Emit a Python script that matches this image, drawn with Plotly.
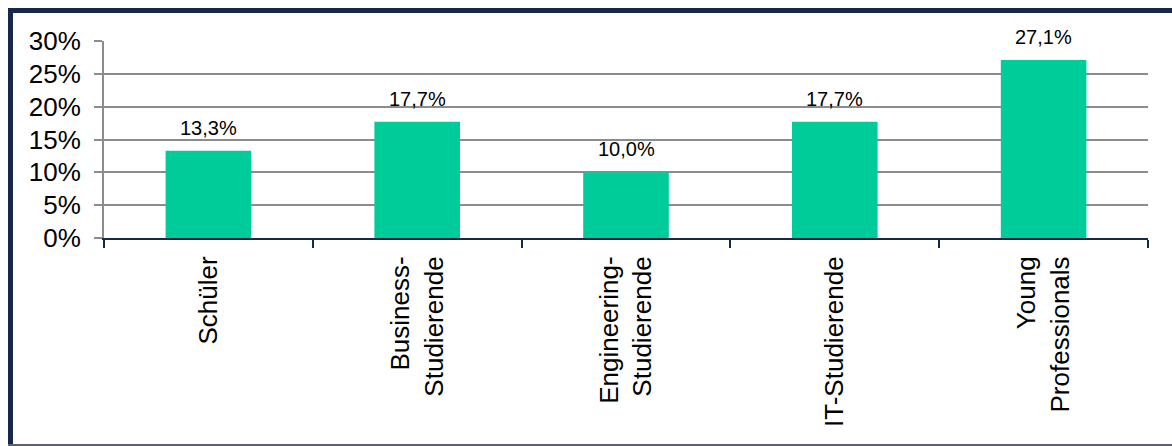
import plotly.graph_objects as go

# Anteil je Zielgruppe (in %)
categories = ["Schüler", "Business-<br>Studierende", "Engineering-<br>Studierende",
              "IT-Studierende", "Young<br>Professionals"]
values = [13.3, 17.7, 10.0, 17.7, 27.1]
y_ticks = [0, 5, 10, 15, 20, 25, 30]

FONT = "Liberation Sans, Arial, sans-serif"
BAR_COLOR = "#00CC99"
NAVY = "#14294B"
GRID = "#8C8C8C"

W, H = 1172, 446
M_L, M_R, M_T, M_B = 104, 24, 41, 208
plot_w = W - M_L - M_R
plot_h = H - M_T - M_B


def px_to_paper_x(px):
    return (px - M_L) / plot_w


def px_to_paper_y(py):
    return (H - M_B - py) / plot_h


fig = go.Figure()
fig.add_trace(go.Bar(
    x=categories,
    y=values,
    marker=dict(color=BAR_COLOR, line=dict(width=0)),
    hoverinfo="skip",
))

# value labels above each bar
for c, v in zip(categories, values):
    fig.add_annotation(
        x=c, y=v, text=f"{v:.1f}".replace(".", ",") + "%",
        showarrow=False, yanchor="bottom", yshift=10,
        font=dict(family=FONT, size=20, color="#000000"),
    )

# frame: navy left and top edge, grey bottom edge
shapes = [
    dict(type="line", xref="paper", yref="paper",
         x0=px_to_paper_x(10.5), x1=px_to_paper_x(10.5),
         y0=px_to_paper_y(8), y1=px_to_paper_y(446),
         line=dict(color=NAVY, width=5)),
    dict(type="line", xref="paper", yref="paper",
         x0=px_to_paper_x(8), x1=px_to_paper_x(1172),
         y0=px_to_paper_y(10.5), y1=px_to_paper_y(10.5),
         line=dict(color=NAVY, width=5)),
    dict(type="line", xref="paper", yref="paper",
         x0=px_to_paper_x(8), x1=px_to_paper_x(1172),
         y0=px_to_paper_y(445), y1=px_to_paper_y(445),
         line=dict(color="#5A6270", width=2)),
]

fig.update_layout(
    width=W, height=H,
    margin=dict(l=M_L, r=M_R, t=M_T, b=M_B, pad=0),
    paper_bgcolor="#FFFFFF",
    plot_bgcolor="#FFFFFF",
    bargap=0.59,
    showlegend=False,
    shapes=shapes,
    font=dict(family=FONT, color="#000000"),
    xaxis=dict(
        type="category",
        tickangle=-90,
        tickfont=dict(family=FONT, size=26, color="#000000"),
        showline=True, linecolor=NAVY, linewidth=2,
        ticks="outside", ticklen=8, tickcolor=NAVY, tickwidth=2,
        ticklabelstandoff=6,
        tickson="boundaries",
        showgrid=False,
        fixedrange=True,
    ),
    yaxis=dict(
        range=[0, 30],
        tickvals=y_ticks,
        ticktext=[f"{t}%" for t in y_ticks],
        tickfont=dict(family=FONT, size=26, color="#000000"),
        showline=True, linecolor=GRID, linewidth=2,
        ticks="outside", ticklen=8, tickcolor=GRID, tickwidth=2,
        ticklabelstandoff=8,
        showgrid=True, gridcolor=GRID, gridwidth=2,
        zeroline=False,
        fixedrange=True,
    ),
)

fig.write_html("out.html", config={"displayModeBar": False})
